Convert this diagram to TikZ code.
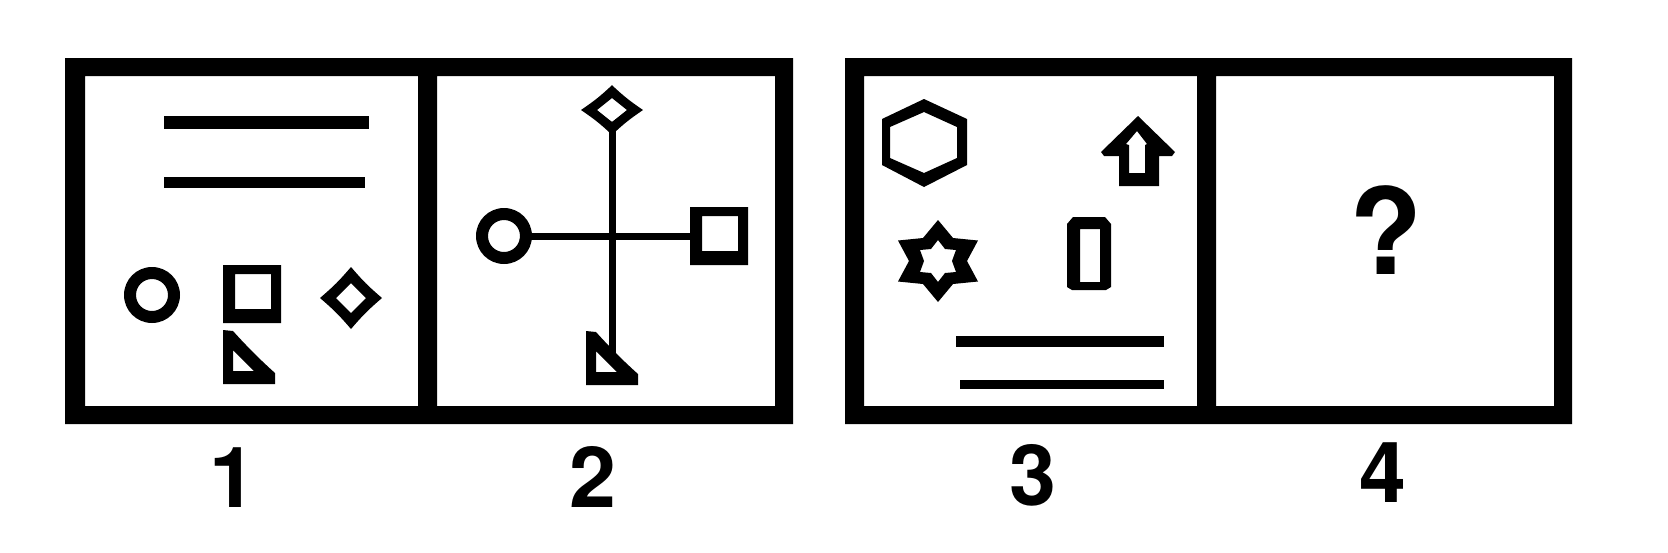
\documentclass[tikz,border=0pt]{standalone}
\usepackage{tikz}
\usepackage{fontspec}
\setmainfont{TeX Gyre Heros}

\begin{document}
\begin{tikzpicture}[
    x=0.02cm, y=-0.02cm,
    ink/.style={fill=black, even odd rule},
    bar/.style={fill=black},
    stem/.style={line width=0.14cm, black},
    numlabel/.style={
        inner sep=0pt,
        font=\fontsize{48}{48}\selectfont\bfseries
    },
    query/.style={
        inner sep=0pt,
        font=\fontsize{68}{68}\selectfont\bfseries
    },
    ring/.pic={
        \fill[white] (0,0) circle (16);
        \fill[ink] (0,0) circle (28) (0,0) circle (16);
    },
    sqframe/.pic={
        \fill[white] (-17,-20) rectangle (19,15);
        \fill[ink] (-29,-29) rectangle (29,29) (-17,-20) rectangle (19,15);
    },
    cdiam/.pic={
        \fill[white] (0,-15) -- (15,0) -- (0,15) -- (-15,0) -- cycle;
        \fill[ink] (0,-31) .. controls (12,-17) and (17,-12) .. (31,0)
            .. controls (17,12) and (12,17) .. (0,31)
            .. controls (-12,17) and (-17,12) .. (-31,0)
            .. controls (-17,-12) and (-12,-17) .. (0,-31) -- cycle
            (0,-15) -- (15,0) -- (0,15) -- (-15,0) -- cycle;
    },
    wedge/.pic={
        \fill[white] (-16,-7) -- (-16,14) -- (5,14) -- cycle;
        \fill[ink] (-26,-27) -- (-16,-26) .. controls (-7,-16) and (8,0) .. (26,16)
            -- (26,27) -- (-26,27) -- cycle
            (-16,-7) -- (-16,14) -- (5,14) -- cycle;
    },
    hexcell/.pic={
        \fill[ink] (0,-44) -- (43,-24) -- (43,22) -- (0,44) -- (-42,22) -- (-42,-24) -- cycle
            (0,-31) -- (33,-16) -- (33,15) -- (0,30) -- (-34,15) -- (-34,-16) -- cycle;
    },
    hexstar/.pic={
        \fill[ink] (0,-41) -- (15,-23) -- (40,-20.5) -- (29,0) -- (40,20.5) -- (15,23)
            -- (0,41) -- (-15,23) -- (-40,20.5) -- (-29,0) -- (-40,-20.5) -- (-15,-23) -- cycle
            (0,-21) -- (7,-12) -- (18,-11) -- (14,0) -- (18,11) -- (7,12)
            -- (0,21) -- (-7,12) -- (-18,11) -- (-14,0) -- (-18,-11) -- (-7,-12) -- cycle;
    },
    uparrow/.pic={
        \fill[ink] (0,-26) -- (37,10) -- (34,14) -- (21,14) -- (21,44) -- (-19,44) -- (-19,14)
            -- (-34,14) -- (-37,10) -- cycle
            (-1,-11) -- (9,2) -- (7,3) -- (7,31) -- (-9,31) -- (-9,3) -- (-12,2) -- cycle;
    },
    slab/.pic={
        \fill[ink] (-22,-29) -- (-16,-36) -- (16,-36) -- (22,-29) -- (22,34) -- (17,37)
            -- (-17,37) -- (-22,34) -- cycle
            (-9,-24) rectangle (11,29);
    }
]
\useasboundingbox (0,0) rectangle (1668,552);

% frames
\fill[ink] (65,58) rectangle (793,424) (85,76) rectangle (418,406) (437,76) rectangle (775,406);
\fill[ink] (845,58) rectangle (1572,424) (864,76) rectangle (1197,406) (1216,76) rectangle (1554,406);

% panel 1
\fill[bar] (164,116) rectangle (369,129);
\fill[bar] (164,177) rectangle (365,188);
\pic at (152,295) {ring};
\pic at (252,294) {sqframe};
\pic at (351,298) {cdiam};
\pic at (249,357) {wedge};

% panel 2
\coordinate (c2) at (504,236);
\coordinate (s2) at (719,236);
\coordinate (d2) at (612,110);
\coordinate (t2) at (612,358);
\draw[stem] (c2) -- (s2);
\draw[stem] (d2) -- (t2);
\pic at (c2) {ring};
\pic at (s2) {sqframe};
\pic[yscale=0.8] at (d2) {cdiam};
\pic at (t2) {wedge};

% panel 3
\pic at (924,143) {hexcell};
\pic at (1138,142) {uparrow};
\pic at (938,261) {hexstar};
\pic at (1089,253) {slab};
\fill[bar] (956,336) rectangle (1164,347);
\fill[bar] (960,380) rectangle (1164,389);

% panel 4
\node (ask) [query] at (1386,230) {?};

\node (lab1) [numlabel] at (233,478) {1};
\node (lab2) [numlabel] at (593,477) {2};
\node (lab3) [numlabel] at (1033,475) {3};
\node (lab4) [numlabel] at (1383,473) {4};
\end{tikzpicture}
\end{document}
